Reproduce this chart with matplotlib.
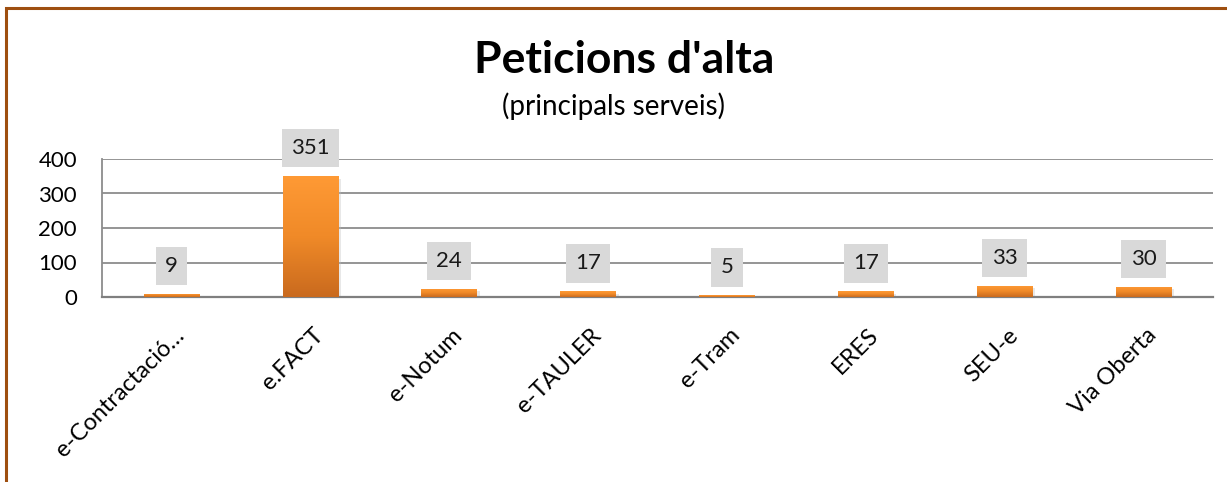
import numpy as np
import matplotlib
matplotlib.use("Agg")
import matplotlib.pyplot as plt
from matplotlib.colors import LinearSegmentedColormap
from matplotlib.patches import Rectangle
import matplotlib.transforms as mtransforms

categories = ["e-Contractació…", "e.FACT", "e-Notum", "e-TAULER", "e-Tram", "ERES", "SEU-e", "Via Oberta"]
values = [9, 351, 24, 17, 5, 17, 33, 30]
yticks = [0, 100, 200, 300, 400]
title = "Peticions d'alta"
subtitle = "(principals serveis)"

plt.rcParams['font.family'] = ['Lato', 'DejaVu Sans']

W, H = 1227, 482
fig = plt.figure(figsize=(W / 100, H / 100), dpi=100)
fig.patch.set_facecolor('white')

# outer frame (top and left visible)
frame = Rectangle((5.5 / W, -0.05), 1.2, 1 - 8 / H + 0.05, transform=fig.transFigure,
                  fill=False, edgecolor='#9E4F10', linewidth=2.2)
fig.add_artist(frame)

ax = fig.add_axes([102 / W, 1 - 297 / H, (1213 - 102) / W, (297 - 159) / H])
x = np.arange(len(categories))

ax.yaxis.grid(True, color='#8C8C8C', linewidth=1.3)
ax.set_axisbelow(True)
for s in ['top', 'right']:
    ax.spines[s].set_visible(False)
ax.spines['left'].set_color('#8C8C8C')
ax.spines['bottom'].set_color('#7F7F7F')
ax.spines['left'].set_linewidth(1.3)
ax.spines['bottom'].set_linewidth(1.6)
ax.set_yticks(yticks)
ax.tick_params(axis='y', length=0, labelsize=16, pad=18)
ax.tick_params(axis='x', length=0, labelsize=17, pad=25)
ax.set_xticks(x)
ax.set_xticklabels(categories, rotation=45, ha='right', va='center', rotation_mode='anchor')
for lbl in ax.get_xticklabels():
    lbl.set_transform(lbl.get_transform() + mtransforms.ScaledTranslation(7 / 72, 0, fig.dpi_scale_trans))

cmap = LinearSegmentedColormap.from_list('og', ['#C96A1E', '#F08A28', '#FF9A35'])
grad = np.linspace(0, 1, 256).reshape(-1, 1)

# shadow bars
sh = ax.bar(x, values, width=0.42, color='#BFBFBF', alpha=0.35, zorder=2,
            transform=ax.transData + mtransforms.ScaledTranslation(1 / 72, -2 / 72, fig.dpi_scale_trans))
bars = ax.bar(x, values, width=0.40, color='none', zorder=3)
for b in bars:
    im = ax.imshow(grad, cmap=cmap, aspect='auto', origin='lower',
                   extent=[b.get_x(), b.get_x() + b.get_width(), 0, max(b.get_height(), 1)],
                   zorder=3)
    im.set_clip_path(b)
ax.set_xlim(-0.5, len(categories) - 0.5)
ax.set_ylim(0, 400)

for xi, v in zip(x, values):
    ax.annotate(str(v), (xi, v), xytext=(0, 20), textcoords='offset points',
                ha='center', va='center', fontsize=16, color='#1a1a1a', zorder=5,
                bbox=dict(boxstyle='square,pad=0.42', facecolor='#D9D9D9', edgecolor='none'))

fig.text(624 / W, 1 - 73 / H, title, ha='center', va='baseline', fontsize=32, fontweight='bold')
fig.text(613 / W, 1 - 115 / H, subtitle, ha='center', va='baseline', fontsize=20)

fig.savefig('out.png', dpi=100)
